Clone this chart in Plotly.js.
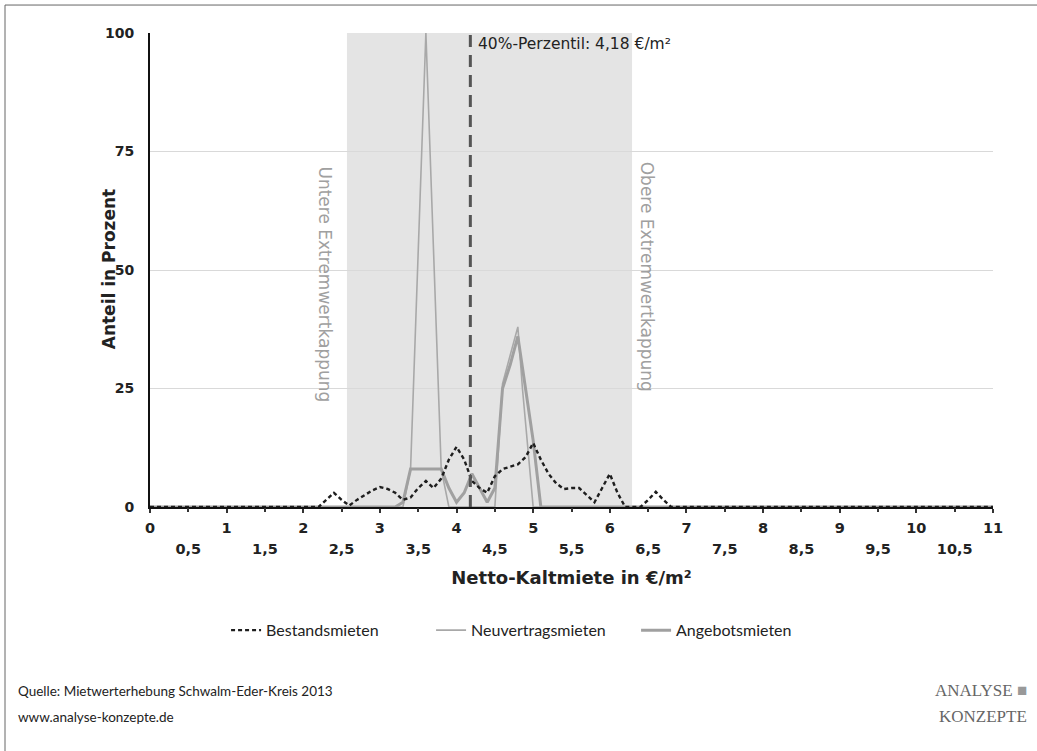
<!DOCTYPE html>
<html>
<head>
<meta charset="utf-8">
<script src="https://cdn.plot.ly/plotly-3.0.1.min.js"></script>
<style>
html,body{margin:0;padding:0;background:#fff;}
#chart{width:1037px;height:751px;}
</style>
</head>
<body>
<div id="chart"></div>
<script>
// ---- data ----
const bestandX = [0, 2.2, 2.3, 2.4, 2.5, 2.6, 2.7, 2.8, 2.9, 3.0, 3.1, 3.2, 3.3, 3.4, 3.5, 3.6, 3.7, 3.8, 3.9, 4.0, 4.1, 4.2, 4.3, 4.4, 4.5, 4.6, 4.7, 4.8, 4.9, 5.0, 5.1, 5.2, 5.3, 5.4, 5.5, 5.6, 5.7, 5.8, 5.9, 6.0, 6.1, 6.2, 6.3, 6.4, 6.5, 6.6, 6.7, 6.8, 11];
const bestandY = [0, 0, 1.5, 3, 1.5, 0.3, 1.5, 2.5, 3.5, 4.2, 3.8, 3, 1.5, 2, 4, 5.5, 4, 6, 10, 12.7, 10, 5.5, 4, 3, 6.5, 8, 8.5, 9, 10.5, 13.5, 10, 7, 5, 3.8, 4, 4, 2.5, 1, 4, 7, 3, 0, 0, 0, 1.5, 3.2, 1.5, 0, 0];

const neuX = [0, 3.3, 3.4, 3.6, 3.8, 3.9, 4.5, 4.6, 4.7, 4.8, 4.86, 5.0, 5.1, 11];
const neuY = [0, 0, 8, 100, 8, 0, 0, 26, 32, 38, 25, 0, 0, 0];

const angebotX = [0, 3.2, 3.3, 3.4, 3.5, 3.6, 3.7, 3.8, 3.9, 4.0, 4.1, 4.2, 4.3, 4.4, 4.5, 4.6, 4.7, 4.8, 4.9, 5.0, 5.1, 11];
const angebotY = [0, 0, 1, 8, 8, 8, 8, 8, 4, 1, 3, 7, 4, 1, 4, 25, 30, 36, 25, 14, 0, 0];

const seriesNames = ["Bestandsmieten", "Neuvertragsmieten", "Angebotsmieten"];

const xMajorTicks = [0, 1, 2, 3, 4, 5, 6, 7, 8, 9, 10, 11];
const xMajorLabels = ["0", "1", "2", "3", "4", "5", "6", "7", "8", "9", "10", "11"];
const xMinorTicks = [0.5, 1.5, 2.5, 3.5, 4.5, 5.5, 6.5, 7.5, 8.5, 9.5, 10.5];
const xMinorLabels = ["0,5", "1,5", "2,5", "3,5", "4,5", "5,5", "6,5", "7,5", "8,5", "9,5", "10,5"];
const yTicks = [0, 25, 50, 75, 100];

const lowerCap = 2.57;
const upperCap = 6.29;
const percentile40 = 4.18;

// ---- chart ----
const fontMain = "'DejaVu Sans', Verdana, sans-serif";
const fontText = "Lato, 'Open Sans', sans-serif";

const traces = [
  {x: neuX, y: neuY, name: seriesNames[1], type: "scatter", mode: "lines", legendrank: 2,
   line: {color: "#a8a8a8", width: 1.6}},
  {x: angebotX, y: angebotY, name: seriesNames[2], type: "scatter", mode: "lines", legendrank: 3,
   line: {color: "#a0a0a0", width: 3}},
  {x: bestandX, y: bestandY, name: seriesNames[0], type: "scatter", mode: "lines", legendrank: 1,
   line: {color: "#1e1e1e", width: 2.4, dash: "4px,3px"}},
  // invisible trace on xaxis2 for half-step labels
  {x: [0, 11], y: [0, 0], xaxis: "x2", yaxis: "y", mode: "lines",
   line: {width: 0}, showlegend: false, hoverinfo: "skip"}
];

const layout = {
  width: 1037, height: 751,
  margin: {l: 150, r: 44, t: 33, b: 244},
  paper_bgcolor: "#ffffff",
  plot_bgcolor: "#ffffff",
  font: {family: fontMain, color: "#222", size: 13},
  showlegend: true,
  legend: {
    orientation: "h", x: 0.455, xanchor: "center", y: -0.26, yanchor: "middle",
    font: {family: fontText, size: 16, color: "#222"},
    itemwidth: 30, entrywidth: 160, entrywidthmode: "pixels"
  },
  xaxis: {
    range: [0, 11], showgrid: false, zeroline: false,
    showline: true, linecolor: "#111", linewidth: 2,
    tickmode: "array", tickvals: xMajorTicks, ticktext: xMajorLabels,
    ticks: "outside", ticklen: 4, tickcolor: "#333", tickwidth: 2,
    ticklabelstandoff: 3,
    tickfont: {family: fontMain, size: 14.5, weight: "bold", color: "#222"},
    title: {text: "Netto-Kaltmiete in €/m²", standoff: 36,
            font: {family: fontMain, size: 18, weight: "bold", color: "#222"}},
    automargin: false
  },
  xaxis2: {
    range: [0, 11], overlaying: "x", anchor: "y", side: "bottom",
    showgrid: false, zeroline: false, showline: false,
    tickmode: "array", tickvals: xMinorTicks, ticktext: xMinorLabels,
    ticks: "outside", ticklen: 4, tickcolor: "#333", tickwidth: 2,
    ticklabelstandoff: 25,
    tickfont: {family: fontMain, size: 14.5, weight: "bold", color: "#222"},
    automargin: false
  },
  yaxis: {
    range: [0, 100], tickmode: "array", tickvals: yTicks,
    showgrid: true, gridcolor: "#d9d9d9", gridwidth: 1,
    zeroline: false, showline: true, linecolor: "#111", linewidth: 2,
    ticks: "", ticklabelstandoff: 11,
    tickfont: {family: fontMain, size: 14, weight: "bold", color: "#222"},
    automargin: false
  },
  shapes: [
    {type: "rect", xref: "x", yref: "paper", x0: lowerCap, x1: upperCap, y0: 0, y1: 1,
     fillcolor: "#e4e4e4", line: {width: 0}, layer: "below"},
    {type: "line", xref: "x", yref: "paper", x0: percentile40, x1: percentile40, y0: 0, y1: 1,
     line: {color: "#555", width: 3, dash: "12px,8px"}, layer: "above"},
    // outer frame
    {type: "line", xref: "paper", yref: "paper", x0: -0.172, x1: 1.06, y0: 1.059, y1: 1.059,
     line: {color: "#666", width: 1}},
    {type: "line", xref: "paper", yref: "paper", x0: -0.172, x1: -0.172, y0: 1.059, y1: -0.52,
     line: {color: "#666", width: 1}}
  ],
  annotations: [
    {text: "Anteil in Prozent", xref: "paper", yref: "paper", x: -0.049, y: 0.503,
     textangle: -90, showarrow: false, xanchor: "center", yanchor: "middle",
     font: {family: fontMain, size: 17, weight: "bold", color: "#222"}},
    {text: "40%-Perzentil: 4,18 €/m²", xref: "x", yref: "y", x: percentile40 + 0.07, y: 97.7,
     showarrow: false, xanchor: "left", yanchor: "middle",
     font: {family: fontMain, size: 15.5, color: "#222"}},
    {text: "Untere Extremwertkappung", xref: "x", yref: "y", x: 2.28, y: 47,
     textangle: 90, showarrow: false, xanchor: "center", yanchor: "middle",
     font: {family: fontMain, size: 17, color: "#a0a0a0"}},
    {text: "Obere Extremwertkappung", xref: "x", yref: "y", x: 6.49, y: 48.5,
     textangle: 90, showarrow: false, xanchor: "center", yanchor: "middle",
     font: {family: fontMain, size: 17, color: "#a0a0a0"}},
    {text: "Quelle: Mietwerterhebung Schwalm-Eder-Kreis 2013", xref: "paper", yref: "paper",
     x: -0.159, y: -0.388, xanchor: "left", yanchor: "middle", showarrow: false,
     font: {family: fontText, size: 13.5, color: "#222"}},
    {text: "www.analyse-konzepte.de", xref: "paper", yref: "paper",
     x: -0.159, y: -0.443, xanchor: "left", yanchor: "middle", showarrow: false,
     font: {family: fontText, size: 13.5, color: "#222"}},
    {text: "ANALYSE <span style='color:#999'>■</span>", xref: "paper", yref: "paper",
     x: 1.043, y: -0.388, xanchor: "right", yanchor: "middle", showarrow: false,
     font: {family: "'Liberation Serif', serif", size: 17, color: "#666"}},
    {text: "KONZEPTE", xref: "paper", yref: "paper",
     x: 1.043, y: -0.443, xanchor: "right", yanchor: "middle", showarrow: false,
     font: {family: "'Liberation Serif', serif", size: 17, color: "#666"}}
  ]
};

Plotly.newPlot("chart", traces, layout, {displayModeBar: false, staticPlot: true});
</script>
</body>
</html>
